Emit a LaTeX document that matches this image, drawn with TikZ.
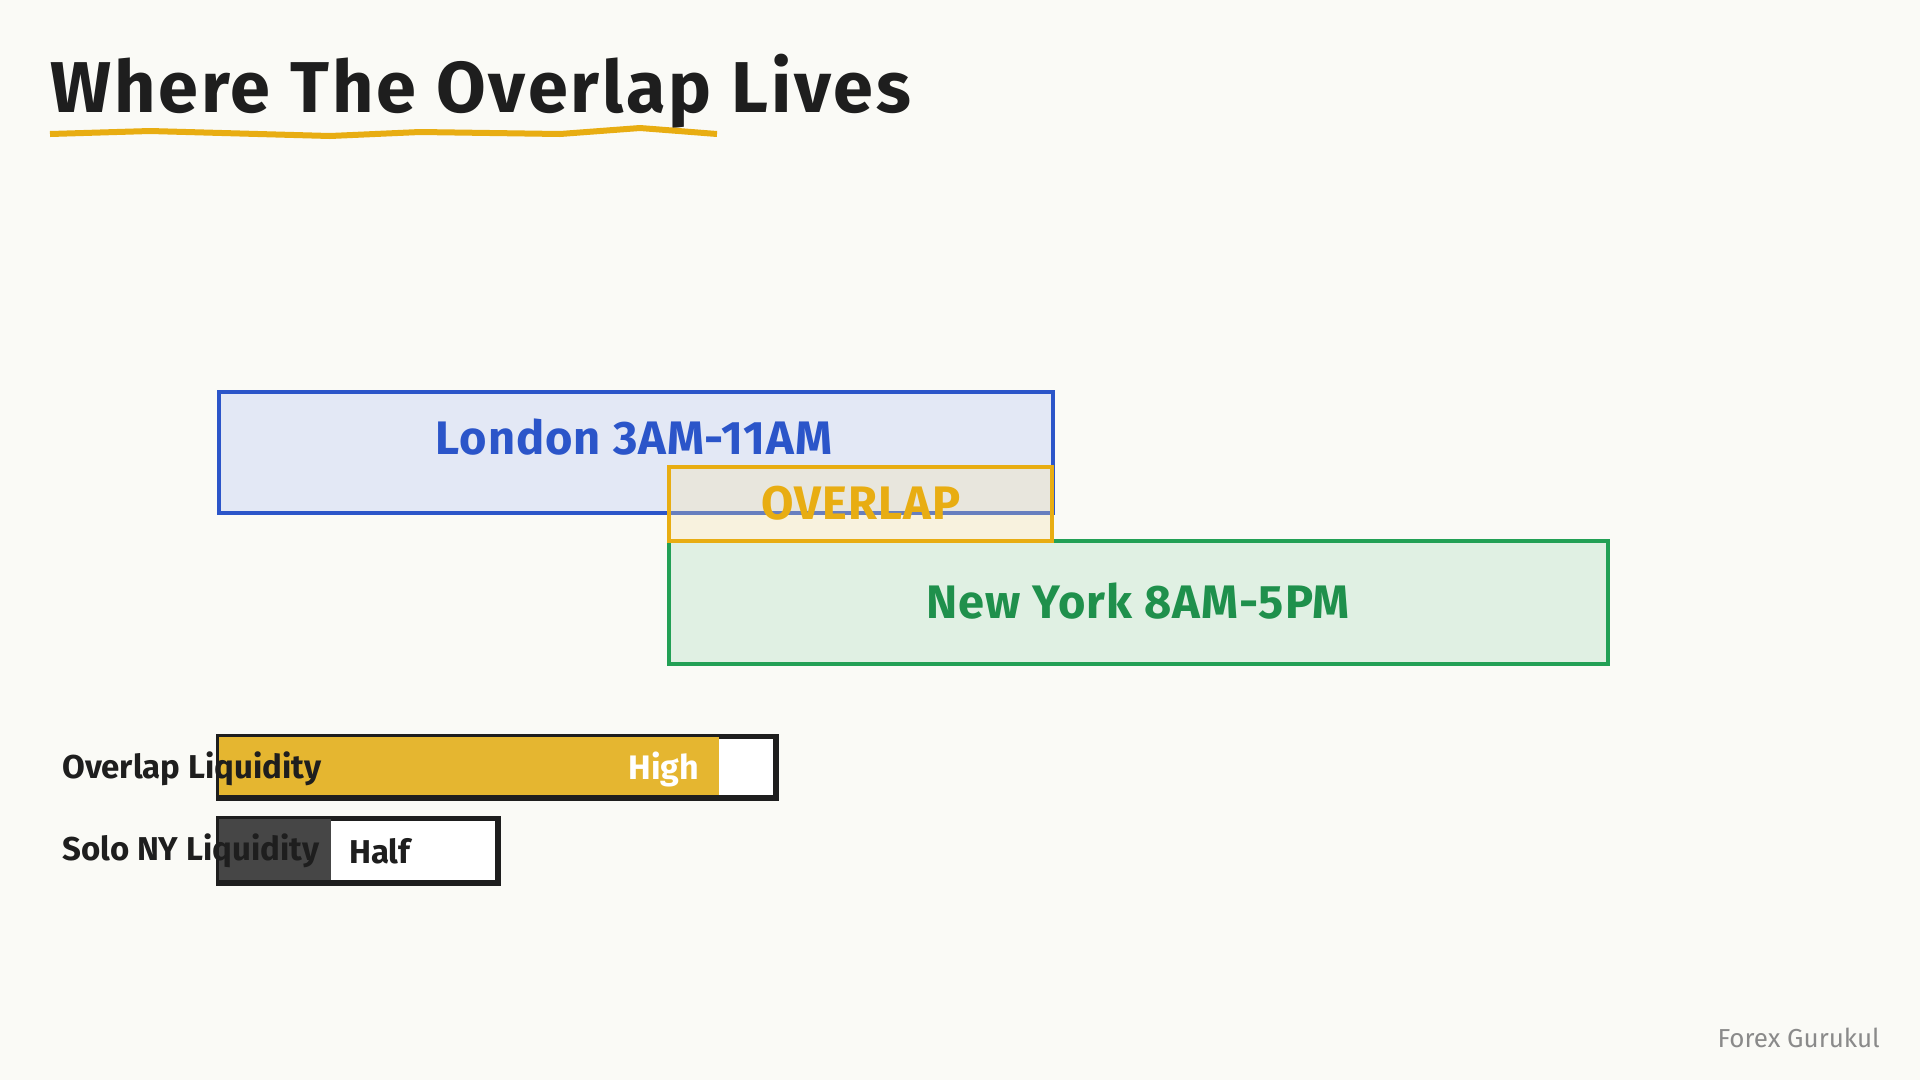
\documentclass[tikz,border=0pt]{standalone}
\usepackage{fontspec}
\setmainfont{Fira Sans}
\definecolor{bg}{HTML}{FAFAF6}
\definecolor{ldnline}{HTML}{2B55C9}
\definecolor{ldnfill}{HTML}{E3E8F5}
\definecolor{nyline}{HTML}{22A055}
\definecolor{nyfill}{HTML}{E0F0E3}
\definecolor{ovline}{HTML}{E8AD12}
\definecolor{ovfill}{HTML}{F5E2A8}
\definecolor{liqyel}{HTML}{E5B630}
\definecolor{liqdark}{HTML}{464646}
\definecolor{ink}{HTML}{1E1E1E}
\definecolor{foot}{HTML}{8A8A8A}
\begin{document}
\begin{tikzpicture}[x=1pt,y=-1pt,
  sessbox/.style={draw, line width=4.5pt, rectangle, inner sep=0pt},
  boxtext/.style={font=\fontsize{47}{50}\selectfont\bfseries\addfontfeature{LetterSpace=2}, inner sep=0pt},
  barbox/.style={draw=ink, line width=3.5pt, rectangle, inner sep=0pt, fill=white},
  lbl/.style={font=\fontsize{33}{38}\selectfont\bfseries, text=ink, inner sep=0pt, anchor=west}]
\useasboundingbox (0,0) rectangle (1920,1080);
\fill[bg] (0,0) rectangle (1920,1080);
% title
\node[font=\fontsize{72}{80}\selectfont\bfseries\addfontfeature{LetterSpace=4}, text=ink, anchor=base west, inner sep=0pt] (title) at (50,112) {Where The Overlap Lives};
\draw[ovline, line width=6pt, line join=round] (50,134) -- (150,131) -- (330,136) -- (420,132) -- (560,134) -- (640,128) -- (717,134);
% London
\node[sessbox, draw=ldnline, fill=ldnfill, minimum width=834pt, minimum height=121pt] (london) at (636,452.5) {};
\node[boxtext, text=ldnline] (ldntxt) at (634,437) {London 3AM-11AM};
% New York
\node[sessbox, draw=nyline, fill=nyfill, minimum width=939pt, minimum height=123pt] (ny) at (1138.5,602.5) {};
\node[boxtext, text=nyline!90!black] (nytxt) at (1138,601) {New York 8AM-5PM};
% Overlap
\node[sessbox, draw=ovline, fill=ovfill, fill opacity=0.3, minimum width=383pt, minimum height=74pt] (overlap) at (860.5,504) {};
\node[boxtext, text=ovline] (ovtxt) at (861,503) {OVERLAP};
% Liquidity bars
\node[barbox, minimum width=556pt, minimum height=60pt] (bar1) at (497,767) {};
\fill[liqyel] (bar1.north west) ++(1.75,1.75) rectangle (719,795.25);
\draw[ink, line width=3.5pt] (bar1.north west) rectangle (bar1.south east);
\node[font=\fontsize{34}{38}\selectfont\bfseries, text=white, inner sep=0pt] (high) at (664,769) {High};
\node[barbox, minimum width=278pt, minimum height=63pt] (bar2) at (358,850.5) {};
\fill[liqdark] (bar2.north west) ++(1.75,1.75) rectangle (331,880.25);
\draw[ink, line width=3.5pt] (bar2.north west) rectangle (bar2.south east);
\node[lbl] (lbl1) at (62,769) {Overlap Liquidity};
\node[lbl] (lbl2) at (62,851) {Solo NY Liquidity};
\node[lbl] (half) at (349,851) {Half};
% footer
\node[font=\fontsize{26}{30}\selectfont, text=foot, anchor=east, inner sep=0pt] (footer) at (1880,1038) {Forex Gurukul};
\end{tikzpicture}
\end{document}
